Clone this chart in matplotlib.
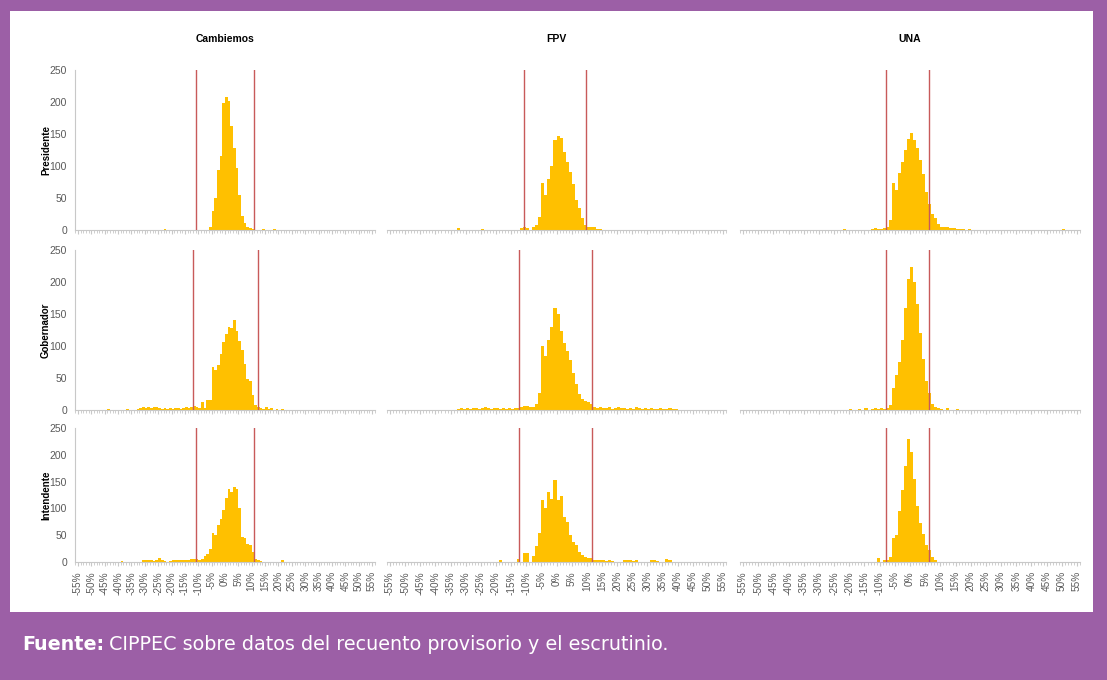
import matplotlib.pyplot as plt
from matplotlib.patches import Rectangle

W, H = 1107, 680

parties = ["Cambiemos", "FPV", "UNA"]
offices = ["Presidente", "Gobernador", "Intendente"]

# Mesas per 1% bin of difference between recuento provisorio and escrutinio
cambiemos_presidente = {
    -23: 2, -6: 5, -5: 30, -4: 50, -3: 94, -2: 116, -1: 198, 0: 208, 1: 202,
    2: 162, 3: 128, 4: 97, 5: 55, 6: 22, 7: 11, 8: 5, 9: 3, 10: 1, 14: 2, 18: 2,
}
cambiemos_gobernador = {
    -44: 2, -37: 2, -33: 2, -32: 3, -31: 4, -30: 3, -29: 4, -28: 3, -27: 5,
    -26: 4, -25: 3, -24: 2, -23: 3, -22: 2, -21: 3, -20: 2, -19: 3, -18: 3,
    -17: 2, -16: 3, -15: 4, -14: 3, -13: 5, -12: 6, -11: 4, -10: 3, -9: 13,
    -8: 3, -7: 15, -6: 15, -5: 67, -4: 62, -3: 70, -2: 88, -1: 106, 0: 119,
    1: 130, 2: 128, 3: 140, 4: 124, 5: 108, 6: 93, 7: 72, 8: 49, 9: 46,
    10: 23, 11: 8, 12: 4, 13: 3, 14: 2, 15: 4, 16: 2, 17: 3, 19: 2, 21: 2,
}
cambiemos_intendente = {
    -39: 2, -31: 3, -30: 4, -29: 4, -28: 3, -27: 2, -26: 3, -25: 8, -24: 3,
    -23: 2, -21: 2, -20: 3, -19: 4, -18: 4, -17: 4, -16: 3, -15: 4, -14: 4,
    -13: 5, -12: 5, -11: 5, -10: 4, -9: 6, -8: 12, -7: 15, -6: 25, -5: 54,
    -4: 50, -3: 69, -2: 81, -1: 97, 0: 119, 1: 137, 2: 131, 3: 140, 4: 137,
    5: 100, 6: 47, 7: 44, 8: 34, 9: 31, 10: 19, 11: 6, 12: 4, 13: 2, 21: 4,
}
fpv_presidente = {
    -33: 3, -25: 2, -12: 3, -11: 4, -10: 3, -8: 5, -7: 8, -6: 21, -5: 73,
    -4: 55, -3: 80, -2: 100, -1: 140, 0: 147, 1: 143, 2: 122, 3: 107, 4: 90,
    5: 72, 6: 47, 7: 34, 8: 18, 9: 8, 10: 5, 11: 4, 12: 4, 13: 2, 14: 2,
}
fpv_gobernador = {
    -33: 2, -32: 3, -31: 2, -30: 3, -29: 2, -28: 3, -27: 3, -26: 2, -25: 3,
    -24: 4, -23: 3, -22: 2, -21: 3, -20: 3, -19: 2, -18: 3, -17: 2, -16: 3,
    -15: 2, -14: 3, -13: 3, -12: 4, -11: 6, -10: 6, -9: 4, -8: 5, -7: 10,
    -6: 26, -5: 100, -4: 85, -3: 110, -2: 130, -1: 160, 0: 150, 1: 124,
    2: 104, 3: 92, 4: 78, 5: 58, 6: 40, 7: 25, 8: 17, 9: 14, 10: 12, 11: 10,
    12: 4, 13: 3, 14: 4, 15: 3, 16: 3, 17: 4, 18: 2, 19: 3, 20: 4, 21: 3,
    22: 3, 23: 2, 24: 3, 25: 2, 26: 4, 27: 3, 28: 2, 29: 3, 30: 2, 31: 3,
    32: 2, 33: 2, 34: 3, 35: 2, 36: 2, 37: 3, 38: 2, 39: 2,
}
fpv_intendente = {
    -19: 3, -13: 5, -11: 16, -10: 16, -8: 12, -7: 30, -6: 55, -5: 116,
    -4: 100, -3: 130, -2: 118, -1: 153, 0: 115, 1: 124, 2: 84, 3: 75, 4: 50,
    5: 38, 6: 31, 7: 19, 8: 13, 9: 10, 10: 8, 11: 8, 12: 3, 13: 4, 14: 3,
    15: 3, 16: 2, 17: 3, 18: 2, 22: 3, 23: 3, 24: 3, 25: 2, 26: 3, 31: 3,
    32: 3, 33: 2, 36: 5, 37: 3,
}
una_presidente = {
    -22: 2, -13: 2, -12: 3, -11: 2, -10: 2, -9: 3, -8: 5, -7: 16, -6: 73,
    -5: 62, -4: 89, -3: 107, -2: 125, -1: 142, 0: 151, 1: 140, 2: 128,
    3: 110, 4: 88, 5: 60, 6: 40, 7: 25, 8: 19, 9: 10, 10: 5, 11: 5, 12: 4,
    13: 3, 14: 3, 15: 2, 16: 2, 17: 2, 19: 1, 50: 2,
}
una_gobernador = {
    -20: 2, -17: 2, -15: 3, -13: 2, -12: 3, -11: 2, -10: 3, -9: 2, -8: 3,
    -7: 8, -6: 35, -5: 55, -4: 75, -3: 110, -2: 160, -1: 205, 0: 224,
    1: 200, 2: 165, 3: 120, 4: 80, 5: 45, 6: 26, 7: 10, 8: 5, 9: 3, 10: 2,
    12: 3, 15: 2,
}
una_intendente = {
    -11: 7, -9: 4, -8: 4, -7: 10, -6: 45, -5: 50, -4: 96, -3: 135, -2: 180,
    -1: 229, 0: 205, 1: 155, 2: 105, 3: 72, 4: 53, 5: 31, 6: 22, 7: 10, 8: 4,
}

# Outlier thresholds (red lines), per office row
cambiemos_cutoffs = [(-10.8, 11.0), (-11.8, 12.3), (-10.8, 11.0)]
fpv_cutoffs = [(-10.8, 9.7), (-12.4, 11.7), (-12.4, 11.7)]
una_cutoffs = [(-8.0, 6.2), (-8.0, 6.2), (-8.0, 6.2)]

x_ticks = list(range(-55, 56, 5))
x_tick_labels = [f"{v}%" for v in x_ticks]
y_ticks = [0, 50, 100, 150, 200, 250]

counts_grid = [
    [cambiemos_presidente, fpv_presidente, una_presidente],
    [cambiemos_gobernador, fpv_gobernador, una_gobernador],
    [cambiemos_intendente, fpv_intendente, una_intendente],
]
cutoffs_grid = [cambiemos_cutoffs, fpv_cutoffs, una_cutoffs]

PURPLE = "#9c5fa6"
BAR = "#ffc000"
LINE = "#c85a5a"
AXIS = "#c8c8c8"
TEXT = "#595959"
FONT = "Liberation Sans"

# pixel boxes (left, right) per column and (top, bottom) per row
col_px = [(75.3, 374.7), (387.0, 726.0), (740.0, 1080.0)]
row_px = [(70, 230), (250, 410), (428, 562)]


def add_px_axes(fig, left, top, right, bottom):
    return fig.add_axes([left / W, 1 - bottom / H, (right - left) / W, (bottom - top) / H])


fig = plt.figure(figsize=(W / 100, H / 100), dpi=100, facecolor=PURPLE)
fig.patches.append(
    Rectangle((10 / W, 1 - 612 / H), 1083 / W, 601 / H, transform=fig.transFigure,
              facecolor="white", edgecolor="none", zorder=-1)
)

for r, (top, bottom) in enumerate(row_px):
    for c, (left, right) in enumerate(col_px):
        ax = add_px_axes(fig, left, top, right, bottom)
        ax.set_facecolor("none")
        counts = counts_grid[r][c]
        ax.bar(list(counts.keys()), list(counts.values()), width=1, align="edge",
               color=BAR, linewidth=0, zorder=2)
        lo, hi = cutoffs_grid[c][r]
        for v in (lo, hi):
            ax.axvline(v, color=LINE, lw=1.0, zorder=3)

        ax.set_xlim(-56, 56)
        ax.set_ylim(0, 250)
        for side in ("top", "right"):
            ax.spines[side].set_visible(False)
        ax.spines["bottom"].set_color(AXIS)
        ax.spines["left"].set_color(AXIS)
        ax.spines["left"].set_visible(c == 0)

        ax.set_xticks(x_ticks)
        ax.set_xticks(range(-56, 57), minor=True)
        ax.tick_params(axis="x", which="both", color=AXIS, direction="out")
        ax.tick_params(axis="x", which="major", length=3)
        ax.tick_params(axis="x", which="minor", length=2)
        if r == 2:
            ax.set_xticklabels(x_tick_labels, rotation=90, fontsize=7.2,
                               color=TEXT, family=FONT)
        else:
            ax.set_xticklabels([])

        ax.set_yticks(y_ticks)
        ax.tick_params(axis="y", length=0, pad=6)
        if c == 0:
            ax.set_yticklabels([str(v) for v in y_ticks], fontsize=7.5,
                               color=TEXT, family=FONT)
            ax.set_ylabel(offices[r], fontsize=7, fontweight="bold",
                          family=FONT, labelpad=-1)
        else:
            ax.set_yticklabels([])

        if r == 0:
            ax.set_title(parties[c], fontsize=7.5, fontweight="bold",
                         family=FONT, pad=20)

# caption in the purple band
label = fig.text(22 / W, 1 - 645 / H, "Fuente:", color="white", fontsize=13.8,
                 fontweight="bold", family="DejaVu Sans", va="center")
renderer = fig.canvas.get_renderer()
bbox = label.get_window_extent(renderer)
fig.text(bbox.x1 / W + 5 / W, 1 - 645 / H,
         "CIPPEC sobre datos del recuento provisorio y el escrutinio.",
         color="white", fontsize=13.8, family="DejaVu Sans", va="center")

fig.savefig("out.png", dpi=100, facecolor=fig.get_facecolor())
